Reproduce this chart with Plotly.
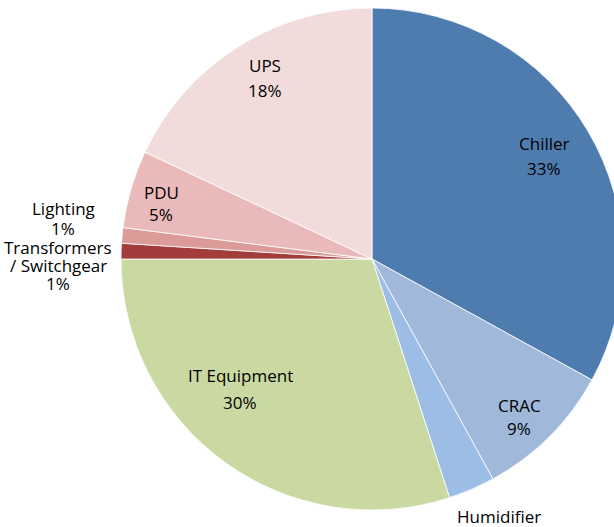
import plotly.graph_objects as go

# ---- data ----
categories = ["Chiller", "CRAC", "Humidifier", "IT Equipment",
              "Transformers / Switchgear", "Lighting", "PDU", "UPS"]
shares = [33, 9, 3, 30, 1, 1, 5, 18]
colors = ["#4F7CAF", "#A0B8D9", "#9CBDE6", "#C9D9A1",
          "#A33D3B", "#DA9B99", "#E9BAB9", "#F2DCDB"]

# label text lines per slice (name lines + percentage)
label_lines = [
    ["Chiller"], ["CRAC"], ["Humidifier"], ["IT Equipment"],
    ["Transformers", "/ Switchgear"], ["Lighting"], ["PDU"], ["UPS"],
]
# label placement (pixel centre of first line, line spacing)
label_pos = [
    (544, 143, 25), (519, 405, 23), (499, 516, 24), (240, 376, 26),
    (58, 247, 18), (63, 208, 20), (161, 192, 23), (265, 65, 26),
]

W, H = 640, 560
CX, CY, R = 372, 259, 251

fig = go.Figure(go.Pie(
    labels=categories,
    values=shares,
    marker=dict(colors=colors, line=dict(color="white", width=0.8)),
    sort=False,
    direction="clockwise",
    rotation=0,
    textinfo="none",
    hoverinfo="label+percent",
    showlegend=False,
    domain=dict(x=[(CX - R) / W, (CX + R) / W],
                y=[1 - (CY + R) / H, 1 - (CY - R) / H]),
))

total = sum(shares)
annotations = []
for lines, val, (px, py, dy) in zip(label_lines, shares, label_pos):
    texts = lines + [f"{round(100 * val / total)}%"]
    for i, t in enumerate(texts):
        annotations.append(dict(
            x=px / W, y=1 - (py + i * dy) / H, xref="paper", yref="paper",
            text=t, showarrow=False, xanchor="center", yanchor="middle",
            font=dict(family="Open Sans", size=17, color="#000000"),
        ))

fig.update_layout(
    width=W, height=H,
    margin=dict(l=0, r=0, t=0, b=0),
    paper_bgcolor="white", plot_bgcolor="white",
    annotations=annotations,
)

fig.write_html(
    "out.html",
    config={"displayModeBar": False},
    post_script="document.body.style.margin='0';document.body.style.overflow='hidden';",
)
